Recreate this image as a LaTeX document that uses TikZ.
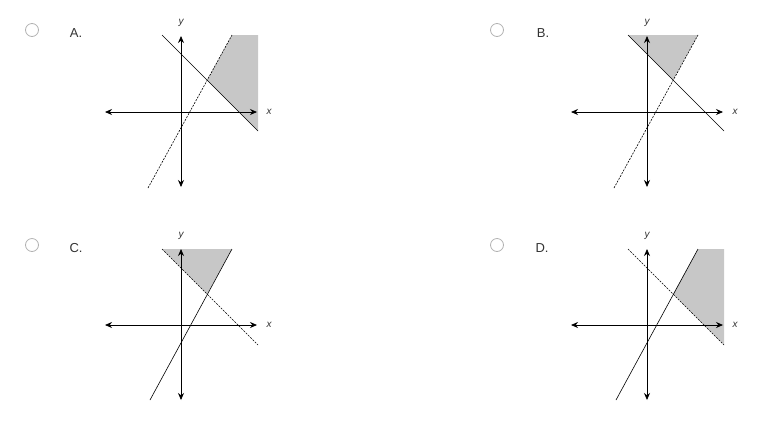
\documentclass[tikz,border=0pt]{standalone}
\usepackage{fontspec}
\setmainfont{Liberation Sans}
\usetikzlibrary{arrows.meta,positioning}
\tikzset{
  axis/.style={thick,{Stealth[length=7pt,width=6pt]}-{Stealth[length=7pt,width=6pt]}},
  sline/.style={semithick},
  dline/.style={semithick,densely dashed,dash pattern=on 2pt off 1.2pt},
  shade/.style={fill=black!22,draw=none},
  radio/.style={circle,draw=black!30,thick,minimum size=13pt,inner sep=0pt},
  choice/.style={font=\fontsize{13}{15}\selectfont,text=black!80},
  axlabel/.style={font=\itshape\fontsize{10}{12}\selectfont,text=black!80}
}
% one coordinate plane; #1 = name prefix
\newcommand\plane[1]{%
  \draw[axis] (-76,0) -- (76,0);
  \draw[axis] (0,75) -- (0,-76);
  \node[axlabel] (#1x) at (88,0) {x};
  \node[axlabel] (#1y) at (0,-89) {y};
}
\begin{document}
\begin{tikzpicture}[x=1pt,y=-1pt]
  \useasboundingbox (0,0) rectangle (768,432);

  % choices
  \node[radio] (ra) at (32,30) {};
  \node[choice] (la) at (76,33) {A.};
  \node[radio] (rb) at (497,30) {};
  \node[choice] (lb) at (543,33) {B.};
  \node[radio] (rc) at (32,245) {};
  \node[choice] (lc) at (76,248) {C.};
  \node[radio] (rd) at (497,245) {};
  \node[choice] (ld) at (542,248) {D.};

  % A
  \begin{scope}[shift={(181,112)}]
    \fill[shade] (26,-32) -- (51,-77) -- (77,-77) -- (77,19) -- cycle;
    \plane{a}
    \draw[sline] (-19,-77) -- (77,19);
    \draw[dline] (-33,76) -- (51,-77);
  \end{scope}

  % B
  \begin{scope}[shift={(647,112)}]
    \fill[shade] (26,-32) -- (51,-77) -- (-19,-77) -- cycle;
    \plane{b}
    \draw[sline] (-19,-77) -- (77,19);
    \draw[dline] (-33,76) -- (51,-77);
  \end{scope}

  % C
  \begin{scope}[shift={(181,325)}]
    \fill[shade] (26,-31) -- (51,-76) -- (-19,-76) -- cycle;
    \plane{c}
    \draw[dline] (-19,-76) -- (77,20);
    \draw[sline] (-31,75) -- (51,-76);
  \end{scope}

  % D
  \begin{scope}[shift={(647,325)}]
    \fill[shade] (26,-31) -- (51,-76) -- (77,-76) -- (77,20) -- cycle;
    \plane{d}
    \draw[dline] (-19,-76) -- (77,20);
    \draw[sline] (-31,75) -- (51,-76);
  \end{scope}
\end{tikzpicture}
\end{document}
